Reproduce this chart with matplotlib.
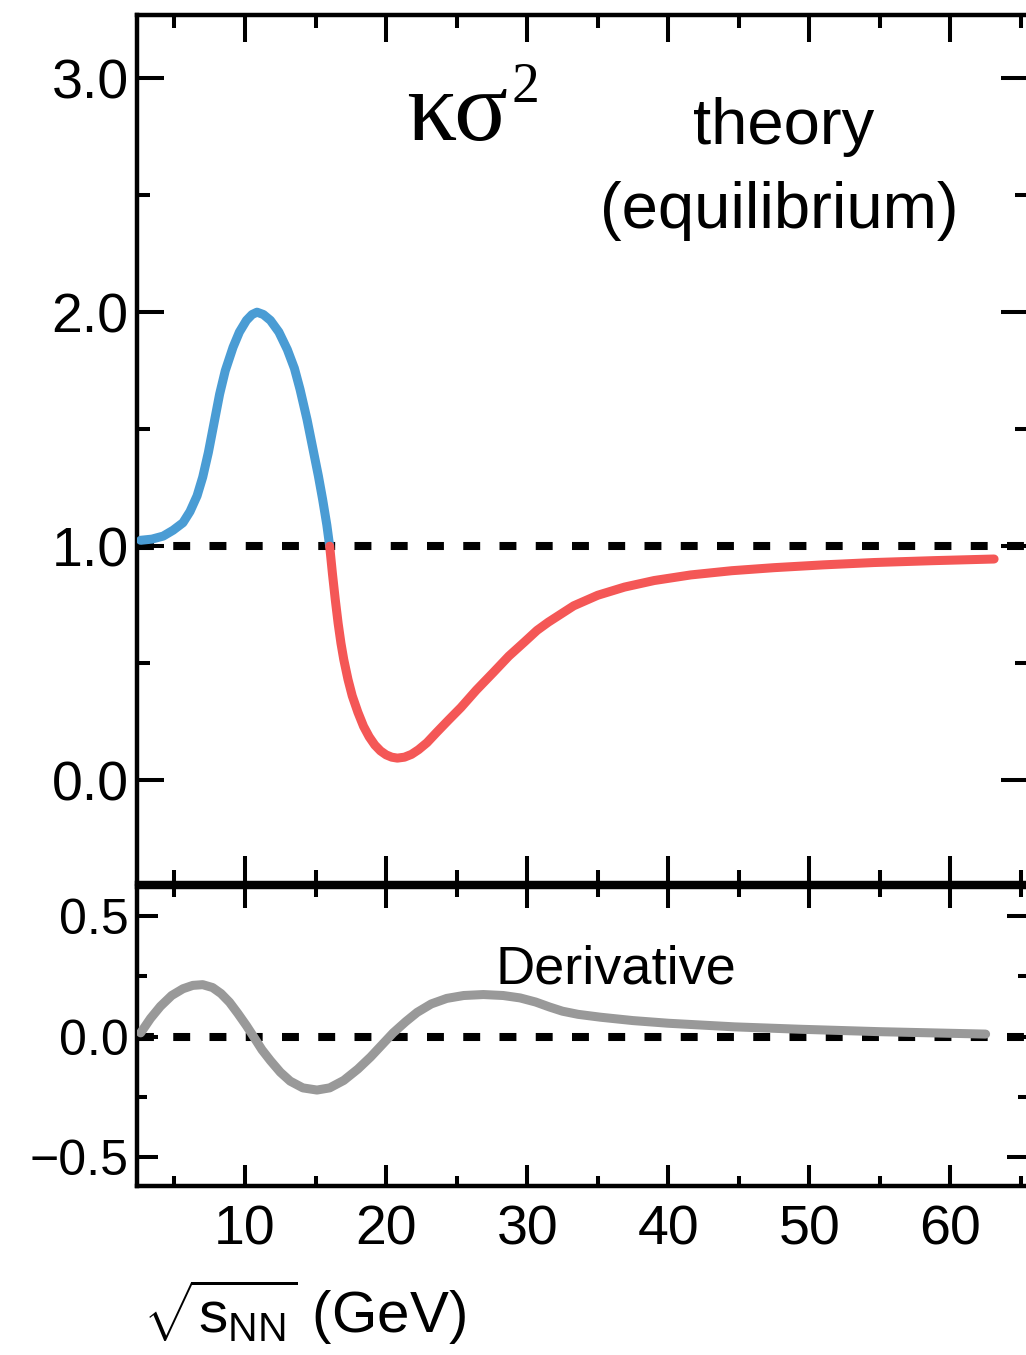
import matplotlib
matplotlib.use("Agg")
import matplotlib.pyplot as plt
from matplotlib.ticker import MultipleLocator

plt.rcParams['font.family'] = ['Liberation Sans', 'DejaVu Sans']
plt.rcParams['mathtext.fontset'] = 'custom'
plt.rcParams['mathtext.rm'] = 'Liberation Sans'
plt.rcParams['mathtext.it'] = 'Liberation Sans:italic'

# kappa sigma^2, below the critical point region (blue) and above (red)
x_blue = [2.6, 3.4, 4.2, 4.9, 5.6, 6.1, 6.6, 7.0, 7.4, 7.8, 8.2, 8.6, 9.15, 9.6, 10.1, 10.5,
          10.85, 11.3, 11.8, 12.4, 13.0, 13.5, 13.9, 14.4, 14.8, 15.2, 15.5, 15.8, 16.0]
y_blue = [1.025, 1.03, 1.043, 1.068, 1.10, 1.148, 1.215, 1.295, 1.40, 1.525, 1.65, 1.75, 1.85, 1.915,
          1.965, 1.99, 2.00, 1.99, 1.965, 1.915, 1.84, 1.76, 1.67, 1.54, 1.42, 1.30, 1.20, 1.09, 1.00]

x_red = [16.0, 16.2, 16.4, 16.6, 16.8, 17.0, 17.3, 17.6, 18.0, 18.4, 18.8, 19.2, 19.6, 20.0,
         20.4, 20.8, 21.3, 21.8, 22.3, 22.9, 23.6, 24.4, 25.3, 26.4, 27.6, 28.7, 29.8, 30.7,
         31.5, 32.4, 33.3, 35.0, 36.9, 39.0, 41.6, 44.5, 47.5, 51.0, 54.6, 58.8, 63.1]
y_red = [1.00, 0.88, 0.77, 0.67, 0.585, 0.515, 0.43, 0.36, 0.29, 0.23, 0.185, 0.15, 0.125, 0.108,
         0.098, 0.094, 0.098, 0.11, 0.13, 0.16, 0.205, 0.255, 0.31, 0.385, 0.46, 0.53, 0.59, 0.64,
         0.675, 0.71, 0.745, 0.79, 0.825, 0.853, 0.877, 0.895, 0.908, 0.92, 0.93, 0.938, 0.945]

# derivative
x_der = [2.6, 3.3, 4.0, 4.8, 5.6, 6.3, 7.0, 7.7, 8.3, 8.9, 9.5, 10.1, 10.6, 11.2, 11.8, 12.5,
         13.2, 14.1, 15.1, 16.0, 17.0, 18.0, 18.9, 19.7, 20.5, 21.4, 22.2, 23.2, 24.3, 25.5,
         26.9, 28.3, 29.5, 30.6, 31.6, 32.5, 33.6, 35.2, 37.5, 40.0, 44.7, 49.4, 55.0, 62.5]
y_der = [0.015, 0.075, 0.125, 0.17, 0.198, 0.212, 0.215, 0.203, 0.178, 0.142, 0.095, 0.045, 0.0,
         -0.055, -0.10, -0.148, -0.185, -0.213, -0.222, -0.213, -0.182, -0.135, -0.085, -0.035,
         0.015, 0.062, 0.10, 0.135, 0.158, 0.17, 0.174, 0.17, 0.16, 0.143, 0.122, 0.105, 0.092,
         0.08, 0.066, 0.055, 0.04, 0.03, 0.02, 0.01]

top_yticks = [0.0, 1.0, 2.0, 3.0]
bot_yticks = [-0.5, 0.0, 0.5]
xticks = [10, 20, 30, 40, 50, 60]

blue = '#4a9cd4'
red = '#f45756'
gray = '#999999'

fig = plt.figure(figsize=(10.26, 13.55), dpi=100)
ax1 = fig.add_axes([0.1335, 0.3483, 0.8684, 0.6406])
ax2 = fig.add_axes([0.1335, 0.1247, 0.8684, 0.2207])

for ax in (ax1, ax2):
    ax.axhline(1.0 if ax is ax1 else 0.0, color='black', lw=5.8, dashes=(2.1, 2.4),
               dash_capstyle='butt', zorder=1)
    ax.set_xlim(2.34, 65.5)
    ax.set_xticks(xticks)
    ax.xaxis.set_minor_locator(MultipleLocator(5))
    for s in ax.spines.values():
        s.set_linewidth(3.2)

ax1.plot(x_blue, y_blue, color=blue, lw=6.5, solid_capstyle='round', solid_joinstyle='round', zorder=3)
ax1.plot(x_red, y_red, color=red, lw=6.5, solid_capstyle='round', solid_joinstyle='round', zorder=3)
ax2.plot(x_der, y_der, color=gray, lw=6.5, solid_capstyle='round', solid_joinstyle='round', zorder=3)

ax1.set_ylim(-0.44, 3.27)
ax1.set_yticks(top_yticks)
ax1.set_yticklabels(['%.1f' % v for v in top_yticks])
ax1.yaxis.set_minor_locator(MultipleLocator(0.5))
ax1.tick_params(which='both', direction='in', top=True, right=True, width=2.9,
                labelbottom=False, labelsize=40, pad=6)
ax1.tick_params(which='major', length=19.4)
ax1.tick_params(which='minor', length=9.4)

ax2.set_ylim(-0.62, 0.62)
ax2.set_yticks(bot_yticks)
ax2.set_yticklabels(['\u22120.5', '0.0', '0.5'])
ax2.yaxis.set_minor_locator(MultipleLocator(0.25))
ax2.tick_params(which='both', direction='in', top=True, right=True, width=2.9, pad=6)
ax2.tick_params(axis='y', labelsize=36)
ax2.tick_params(axis='x', labelsize=40, pad=13)
ax2.tick_params(which='major', length=15)
ax2.tick_params(which='minor', length=7.2)

# annotations
ax1.text(21.4, 2.735, '\u03ba\u03c3', family='Liberation Serif', fontsize=72, va='baseline')
ax1.text(28.9, 2.90, '2', family='Liberation Serif', fontsize=40, va='baseline')
ax1.text(48.2, 2.72, 'theory', fontsize=47, ha='center', va='baseline')
ax1.text(47.9, 2.36, '(equilibrium)', fontsize=47, ha='center', va='baseline')
ax2.text(36.3, 0.22, 'Derivative', fontsize=39, ha='center', va='baseline')

fig.text(143 / 1026, 1 - 1312 / 1355, r'$\sqrt{\mathrm{s}_{\mathrm{NN}}}$ (GeV)', fontsize=42,
         ha='left', va='center')

fig.savefig('out.png', dpi=100)
